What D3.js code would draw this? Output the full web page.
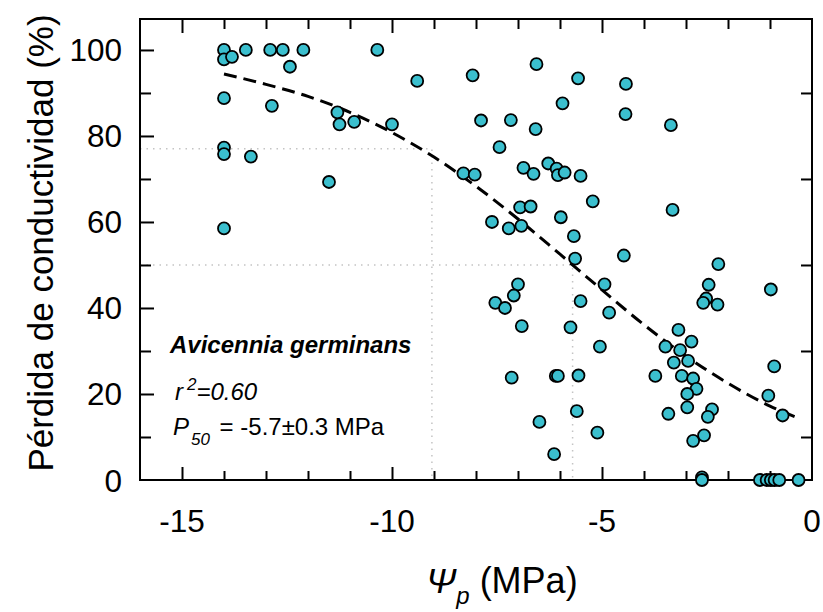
<!DOCTYPE html>
<html>
<head>
<meta charset="utf-8">
<script src="https://cdn.jsdelivr.net/npm/d3@7"></script>
<style>
  body { margin: 0; background: #fff; }
  svg { font-family: "Liberation Sans", Arial, sans-serif; }
</style>
</head>
<body>
<svg id="chart" width="823" height="612"></svg>
<script>
// Potencial hidrico (MPa) de cada muestra
const psi = [
  -14.0, -14.0, -13.81, -13.48, -12.9, -12.6, -12.11, -12.43, -14.0, -12.86,
  -11.3, -11.25, -10.9, -14.0, -14.0, -13.36, -11.5, -14.0,
  -10.35, -9.4, -8.08, -6.56, -5.57, -5.94, -10.0, -7.88, -7.17, -6.58,
  -7.44, -8.3, -8.03, -6.87, -6.63, -6.28, -6.08, -6.05, -5.89, -5.51,
  -5.22, -6.95, -6.7, -7.62, -7.22, -6.92, -5.98, -5.67, -5.64,
  -4.43, -4.44, -3.36, -3.32, -4.48,
  -7.0, -7.1, -7.54, -7.31, -6.91, -5.51, -5.75, -5.05, -7.15, -6.1,
  -6.05, -5.56, -5.6, -6.49, -5.11, -6.14,
  -2.23, -4.94, -4.83, -2.46, -2.52, -2.59, -2.25, -0.98, -3.18, -2.87,
  -3.49, -3.14, -3.29, -2.95, -0.9, -3.73, -3.1, -2.83, -2.75, -2.97,
  -1.04, -3.42, -2.97, -2.38, -2.48, -0.7, -2.57, -2.83, -2.62, -2.62,
  -1.24, -1.08, -0.98, -0.89, -0.78, -0.32
];
// Perdida de conductividad (%) de cada muestra
const plc = [
  100, 97.8, 98.4, 100, 100, 100, 100, 96.1, 88.8, 87.0,
  85.5, 82.7, 83.3, 77.3, 75.8, 75.2, 69.3, 58.5,
  100, 92.8, 94.1, 96.7, 93.4, 87.6, 82.7, 83.6, 83.7, 81.6,
  77.4, 71.3, 71.0, 72.6, 71.2, 73.6, 72.4, 70.9, 71.5, 70.7,
  64.8, 63.4, 63.6, 60.0, 58.5, 59.1, 61.1, 56.7, 51.5,
  92.1, 85.1, 82.5, 62.8, 52.2,
  45.5, 42.9, 41.2, 40.0, 35.8, 41.6, 35.5, 31.0, 23.8, 24.2,
  24.2, 24.3, 16.0, 13.5, 11.0, 6.0,
  50.2, 45.5, 38.9, 45.4, 42.2, 41.2, 40.8, 44.3, 34.9, 32.2,
  31.0, 30.2, 27.3, 27.7, 26.4, 24.2, 24.2, 23.6, 21.2, 20.0,
  19.6, 15.4, 16.9, 16.4, 14.7, 15.0, 10.4, 9.1, 0.6, 0,
  0, 0, 0, 0, 0, 0
];

// Curva ajustada
const fitPsi = [-14, -13, -12, -11, -10, -9, -8, -7, -6, -5, -4, -3, -2, -1, -0.3];
const fitPlc = [94.4, 92.0, 89.2, 85.5, 80.8, 75.1, 68.3, 60.7, 52.5, 44.2, 36.1, 28.8, 22.5, 17.2, 14.3];

// Lineas de referencia punteadas
const refPlc = [77, 50];
const refPsi = [-9.05, -5.7];

const xTickLabels = [-15, -10, -5, 0];
const yTickLabels = [0, 20, 40, 60, 80, 100];

const svg = d3.select("#chart");
const mLeft = 140, mRight = 812, mTop = 19, mBottom = 480;

const x = d3.scaleLinear().domain([-16, 0]).range([mLeft, mRight]);
const y = d3.scaleLinear().domain([0, 107.2]).range([mBottom, mTop]);

// lineas de referencia
refPlc.forEach((v, i) => {
  svg.append("path")
    .attr("d", `M${x(-16)},${y(v)}H${x(refPsi[i])}V${y(0)}`)
    .attr("fill", "none")
    .attr("stroke", "#c4c4c4")
    .attr("stroke-width", 1.5)
    .attr("stroke-dasharray", "1.5,5");
});

// ejes con ticks hacia dentro
const tickStyle = g => {
  g.select(".domain").remove();
  g.selectAll("line").attr("stroke", "#000").attr("stroke-width", 2);
  g.selectAll("text").remove();
};

const intTicks = d3.range(-15, 0);
const isMajorX = d => d % 5 === 0;

svg.append("g")
  .attr("transform", `translate(0,${mBottom})`)
  .call(d3.axisBottom(x).tickValues(intTicks).tickSize(-1))
  .call(tickStyle)
  .selectAll("line").attr("y2", d => isMajorX(d) ? -13 : -9);

svg.append("g")
  .attr("transform", `translate(0,${mTop})`)
  .call(d3.axisTop(x).tickValues(intTicks).tickSize(-1))
  .call(tickStyle)
  .selectAll("line").attr("y2", d => isMajorX(d) ? 14 : 10);

svg.append("g")
  .attr("transform", `translate(${mLeft},0)`)
  .call(d3.axisLeft(y).tickValues(d3.range(10, 101, 10)).tickSize(-1))
  .call(tickStyle)
  .selectAll("line").attr("x2", d => d % 20 === 0 ? 14 : 11);

svg.append("g")
  .attr("transform", `translate(${mRight},0)`)
  .call(d3.axisRight(y).tickValues([10, 30, 50, 70, 90]).tickSize(-1))
  .call(tickStyle)
  .selectAll("line").attr("x2", -11);

// marco
svg.append("rect")
  .attr("x", mLeft).attr("y", mTop)
  .attr("width", mRight - mLeft).attr("height", mBottom - mTop)
  .attr("fill", "none").attr("stroke", "#000").attr("stroke-width", 2);

// etiquetas de los ejes
svg.selectAll(".xlab")
  .data(xTickLabels)
  .enter().append("text")
  .attr("x", d => x(d))
  .attr("y", 532)
  .attr("text-anchor", "middle")
  .attr("font-size", 31.5)
  .text(d => d);

svg.selectAll(".ylab")
  .data(yTickLabels)
  .enter().append("text")
  .attr("x", 122)
  .attr("y", d => y(d) + 11.5)
  .attr("text-anchor", "end")
  .attr("font-size", 31.5)
  .text(d => d);

svg.append("text")
  .attr("transform", "translate(53,243) rotate(-90)")
  .attr("text-anchor", "middle")
  .attr("font-size", 35)
  .text("Pérdida de conductividad (%)");

const xt = svg.append("text")
  .attr("x", 502).attr("y", 593)
  .attr("text-anchor", "middle")
  .attr("font-size", 36);
xt.append("tspan").attr("font-style", "italic").text("Ψ");
xt.append("tspan").attr("font-style", "italic").attr("font-size", 24).attr("dy", 11).text("p");
xt.append("tspan").attr("dy", -11).text(" (MPa)");

// curva ajustada
const line = d3.line()
  .x((d, i) => x(fitPsi[i]))
  .y(d => y(d))
  .curve(d3.curveMonotoneX);

svg.append("path")
  .datum(fitPlc)
  .attr("d", line)
  .attr("fill", "none")
  .attr("stroke", "#000")
  .attr("stroke-width", 3)
  .attr("stroke-dasharray", "13,7");

// puntos
svg.append("g").selectAll("circle")
  .data(psi.map((p, i) => [p, plc[i]]))
  .enter().append("circle")
  .attr("cx", d => x(d[0]))
  .attr("cy", d => y(d[1]))
  .attr("r", 6)
  .attr("fill", "#3bbfce")
  .attr("stroke", "#000")
  .attr("stroke-width", 1.8);

// anotaciones
svg.append("text")
  .attr("x", 170).attr("y", 353)
  .attr("font-size", 24)
  .attr("font-weight", "bold")
  .attr("font-style", "italic")
  .text("Avicennia germinans");

const r2 = svg.append("text")
  .attr("x", 175).attr("y", 400)
  .attr("font-size", 24)
  .attr("font-style", "italic");
r2.append("tspan").text("r");
r2.append("tspan").attr("font-size", 17).attr("dx", 4).attr("dy", -10).text("2");
r2.append("tspan").attr("dy", 10).text("=0.60");

const p50 = svg.append("text")
  .attr("x", 173).attr("y", 435)
  .attr("font-size", 24);
p50.append("tspan").attr("font-style", "italic").text("P");
p50.append("tspan").attr("font-style", "italic").attr("font-size", 17).attr("dx", 2).attr("dy", 10).text("50");
p50.append("tspan").attr("dx", 3).attr("dy", -10).text(" = -5.7±0.3 MPa");
</script>
</body>
</html>
